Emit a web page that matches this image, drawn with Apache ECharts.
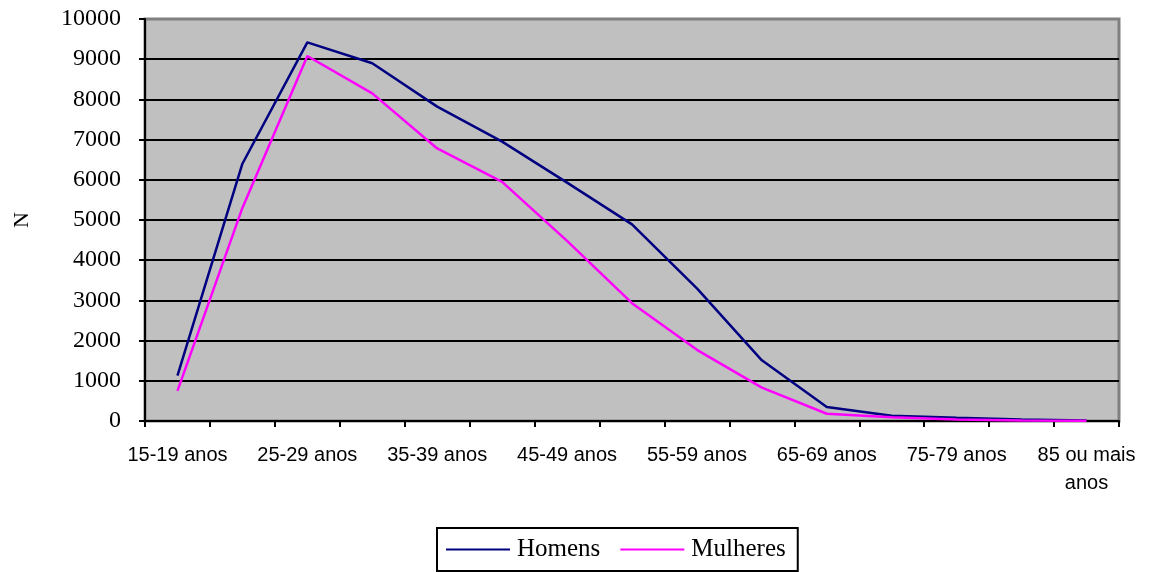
<!DOCTYPE html>
<html>
<head>
<meta charset="utf-8">
<script src="https://cdn.jsdelivr.net/npm/echarts@6/dist/echarts.min.js"></script>
<style>
  html, body { margin: 0; padding: 0; background: #ffffff; }
  #chart { width: 1150px; height: 572px; }
</style>
</head>
<body>
<div id="chart"></div>
<script>
// Age groups (one point per group)
const categories = [
  '15-19 anos', '20-24 anos', '25-29 anos', '30-34 anos', '35-39 anos',
  '40-44 anos', '45-49 anos', '50-54 anos', '55-59 anos', '60-64 anos',
  '65-69 anos', '70-74 anos', '75-79 anos', '80-84 anos', '85 ou mais anos'
];

// Counts per age group
const homens = [1130, 6400, 9420, 8900, 7820, 6950, 5930, 4890, 3300, 1510, 350, 130, 80, 40, 10];
const mulheres = [750, 5300, 9080, 8150, 6780, 5950, 4480, 2930, 1770, 830, 180, 95, 40, 15, 5];

// Value axis ticks
const yTicks = [0, 1000, 2000, 3000, 4000, 5000, 6000, 7000, 8000, 9000, 10000];

const serif = '"Liberation Serif", "DejaVu Serif", serif';
const sans = '"Liberation Sans", Arial, sans-serif';

const chart = echarts.init(document.getElementById('chart'), null, { renderer: 'canvas' });

chart.setOption({
  animation: false,
  backgroundColor: '#ffffff',
  grid: {
    left: 145, right: 31, top: 19, bottom: 151,
    show: true,
    backgroundColor: '#c0c0c0',
    borderColor: '#808080',
    borderWidth: 3
  },
  legend: {
    left: 437, top: 528,
    data: ['Homens', 'Mulheres'],
    icon: 'rect',
    itemWidth: 64, itemHeight: 2,
    itemGap: 20,
    padding: [9, 12, 9, 9],
    borderColor: '#000000',
    borderWidth: 2,
    textStyle: { fontFamily: serif, fontSize: 25, color: '#000000', padding: [0, 0, 0, 2] }
  },
  xAxis: {
    type: 'category',
    data: categories,
    boundaryGap: true,
    axisLine: { show: true, lineStyle: { color: '#000000', width: 2 } },
    axisTick: { show: true, alignWithLabel: false, interval: 0, length: 6, lineStyle: { color: '#000000', width: 2 } },
    axisLabel: {
      interval: 1,
      margin: 20,
      color: '#000000',
      fontFamily: sans,
      fontSize: 20,
      lineHeight: 28,
      formatter: function (v) { return v === '85 ou mais anos' ? '85 ou mais\nanos' : v; }
    },
    splitLine: { show: false }
  },
  yAxis: {
    type: 'value',
    min: yTicks[0],
    max: yTicks[yTicks.length - 1],
    interval: yTicks[1] - yTicks[0],
    name: 'N',
    nameLocation: 'middle',
    nameRotate: 90,
    nameGap: 112,
    nameTextStyle: { fontFamily: serif, fontSize: 22, color: '#000000' },
    axisLine: { show: true, lineStyle: { color: '#000000', width: 2 } },
    axisTick: { show: true, length: 6, lineStyle: { color: '#000000', width: 2 } },
    axisLabel: {
      margin: 24,
      color: '#000000',
      fontFamily: serif,
      fontSize: 24,
      formatter: function (v) { return String(v); }
    },
    splitLine: { show: true, showMaxLine: false, lineStyle: { color: '#000000', width: 2 } }
  },
  series: [
    {
      name: 'Homens',
      type: 'line',
      data: homens,
      symbol: 'none',
      lineStyle: { color: '#000080', width: 2.5 },
      itemStyle: { color: '#000080' }
    },
    {
      name: 'Mulheres',
      type: 'line',
      data: mulheres,
      symbol: 'none',
      lineStyle: { color: '#ff00ff', width: 2.5 },
      itemStyle: { color: '#ff00ff' }
    }
  ]
});
</script>
</body>
</html>
